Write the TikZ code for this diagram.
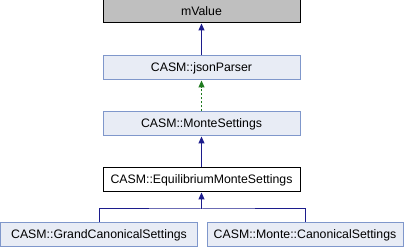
\documentclass[tikz,border=0pt]{standalone}
\usepackage{fontspec}
\setmainfont{Liberation Sans}
\usetikzlibrary{arrows.meta}
\definecolor{clsfill}{HTML}{E8ECF5}
\definecolor{clsedge}{HTML}{7F97CB}
\definecolor{curfill}{HTML}{BFBFBF}
\definecolor{inhline}{HTML}{1C1C8C}
\definecolor{tmplline}{HTML}{1E7A1E}
\tikzset{
  x=1pt, y=1pt,
  cls/.style={draw=clsedge, fill=clsfill, line width=1pt, minimum height=24pt,
    inner sep=0pt, font=\fontsize{12.3}{14}\selectfont},
  basecls/.style={cls, draw=black, fill=curfill, minimum height=23pt},
  plaincls/.style={cls, draw=black, fill=white},
  inherit/.style={draw=inhline, line width=1pt, -{Triangle[width=6pt,length=7pt]}},
  tmpl/.style={draw=tmplline, line width=1pt, dash pattern=on 2pt off 2pt,
    -{Triangle[width=6pt,length=7pt]}},
}
\begin{document}
\begin{tikzpicture}
\useasboundingbox (0,0) rectangle (404,248);
\node[basecls, minimum width=197pt] (mv) at (201.5,236.5) {mValue};
\node[cls, minimum width=197pt] (jp) at (201.5,180) {CASM::jsonParser};
\node[cls, minimum width=197pt] (ms) at (201.5,124) {CASM::MonteSettings};
\node[plaincls, minimum width=197pt] (ems) at (201.5,68) {CASM::EquilibriumMonteSettings};
\node[cls, minimum width=197pt] (gcs) at (99,13) {CASM::GrandCanonicalSettings};
\node[cls, minimum width=196pt] (mcs) at (305,13) {CASM::Monte::CanonicalSettings};
\coordinate (fork) at (201.5,39);
\draw[inherit] (jp.north) -- (mv.south);
\draw[tmpl] (ms.north) -- (jp.south);
\draw[inherit] (ems.north) -- (ms.south);
\draw[draw=inhline, line width=1pt] (gcs.north) |- (fork) -| (mcs.north);
\draw[inherit] (fork) -- (ems.south);
\end{tikzpicture}
\end{document}
